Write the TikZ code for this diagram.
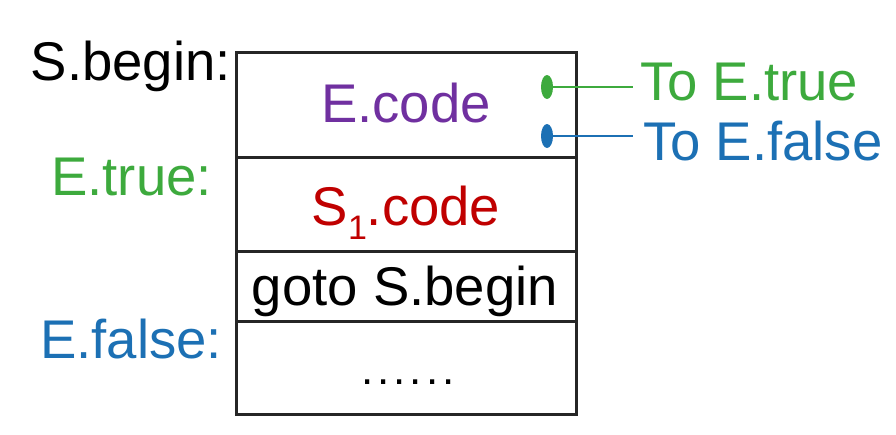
\documentclass[tikz,border=0pt]{standalone}
\usepackage{fontspec}
\setmainfont{Liberation Sans}
\definecolor{cgreen}{RGB}{61,170,61}
\definecolor{cblue}{RGB}{28,112,180}
\definecolor{cpurple}{RGB}{112,48,160}
\definecolor{cred}{RGB}{192,0,0}
\begin{document}
\begin{tikzpicture}[x=1pt,y=-1pt,
  txt/.style={inner sep=0pt,font=\fontsize{54.5}{60}\selectfont},
  boxline/.style={line width=3pt,black!85}]
\useasboundingbox (0,0) rectangle (896,434);
\fill[white] (0,0) rectangle (896,434);
% box
\coordinate (tl) at (236,52);
\coordinate (br) at (576,414);
\draw[boxline] (tl) rectangle (br);
\draw[boxline] (236,157) -- (576,157);
\draw[boxline] (236,251) -- (576,251);
\draw[boxline] (236,321) -- (576,321);
% texts in box
\node[txt,anchor=base,text=cpurple] (ecode) at (406,122) {E.code};
\node[txt,anchor=base,text=cred] (scode) at (406,225) {S\raisebox{-0.5ex}{\fontsize{34}{40}\selectfont 1}.code};
\node[txt,anchor=base] (gotos) at (405,305) {goto S.begin};
\node[txt,anchor=base,font=\fontsize{44}{50}\selectfont] (dots) at (408,384) {.\hspace{4pt}.\hspace{4pt}.\hspace{4pt}.\hspace{4pt}.\hspace{4pt}.};
% labels left
\node[txt,anchor=base east] (sbegin) at (231,80) {S.begin:};
\node[txt,anchor=base east,text=cgreen] (etrue) at (212,195) {E.true:};
\node[txt,anchor=base east,text=cblue] (efalse) at (222,358) {E.false:};
% dots and exits
\coordinate (gd) at (547,87);
\coordinate (bd) at (547,136);
\fill[cgreen] (gd) ellipse (6 and 12);
\fill[cblue] (bd) ellipse (6 and 12);
\node[txt,anchor=base west,text=cgreen] (totrue) at (640,100) {To E.true};
\node[txt,anchor=base west,text=cblue] (tofalse) at (643,160) {To E.false};
\draw[cgreen,line width=1.6pt] (gd) -- (633,87);
\draw[cblue,line width=1.6pt] (bd) -- (633,136);
\end{tikzpicture}
\end{document}
